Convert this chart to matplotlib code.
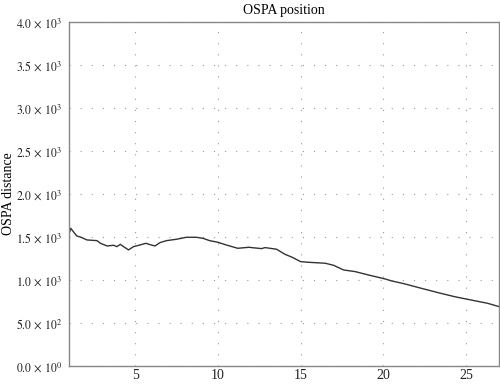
import numpy as np
import matplotlib.pyplot as plt
from matplotlib.ticker import FuncFormatter

plt.rcParams['font.family'] = ['Liberation Serif', 'DejaVu Serif']
plt.rcParams['mathtext.fontset'] = 'stix'

# OSPA distance
time = [1.0, 1.05, 1.1, 1.47, 1.67, 1.87, 2.08, 2.69, 2.9, 3.3, 3.7, 3.9, 4.1, 4.3,
        4.6, 4.9, 5.3, 5.65, 5.9, 6.2, 6.5, 6.9, 7.5, 8.1, 8.7, 9.1, 9.5, 10.0,
        10.5, 11.2, 11.9, 12.04, 12.65, 12.85, 13.55, 14.06, 14.5, 15.0, 15.5,
        16.5, 17.0, 17.6, 18.3, 19.1, 20.1, 20.5, 21.3, 22.3, 23.3, 24.3, 25.3,
        26.3, 27.0]
ospa = [1540, 1562, 1601, 1511, 1500, 1484, 1465, 1457, 1426, 1395, 1403, 1387,
        1414, 1387, 1349, 1387, 1407, 1426, 1410, 1395, 1434, 1457, 1473, 1496,
        1496, 1484, 1457, 1438, 1407, 1368, 1380, 1376, 1364, 1376, 1357, 1298,
        1263, 1213, 1205, 1194, 1170, 1116, 1097, 1058, 1012, 989, 954, 903, 853,
        806, 767, 729, 690]

xticks = [5, 10, 15, 20, 25]
yticks = np.arange(0, 4001, 500)


def sci_fmt(v, pos):
    if v == 0:
        return r'$0.0\,\times\,10^{0}$'
    e = int(np.floor(np.log10(v)))
    return r'$%.1f\,\times\,10^{%d}$' % (v / 10 ** e, e)


fig = plt.figure(figsize=(5, 3.84), dpi=100)
ax = fig.add_axes([0.138, 0.047, 0.86, 0.896])
ax.plot(time, ospa, color='#333333', linewidth=1.0)

ax.set_xlim(1, 27)
ax.set_ylim(0, 4000)
ax.set_xticks(xticks)
ax.set_yticks(yticks)
ax.yaxis.set_major_formatter(FuncFormatter(sci_fmt))
ax.grid(True, linestyle=(0, (1, 9)), color='#999999', linewidth=0.8)
ax.tick_params(length=0, colors='#222222')
ax.tick_params(axis='x', labelsize=10, pad=2)
ax.tick_params(axis='y', labelsize=8.5, pad=5)
for s in ax.spines.values():
    s.set_color('#888888')
    s.set_linewidth(1.0)

ax.set_title('OSPA position', fontsize=10, pad=6)
ax.set_ylabel('OSPA distance', fontsize=10)
ax.yaxis.set_label_coords(-0.125, 0.5)

fig.savefig('out.png', dpi=100)
